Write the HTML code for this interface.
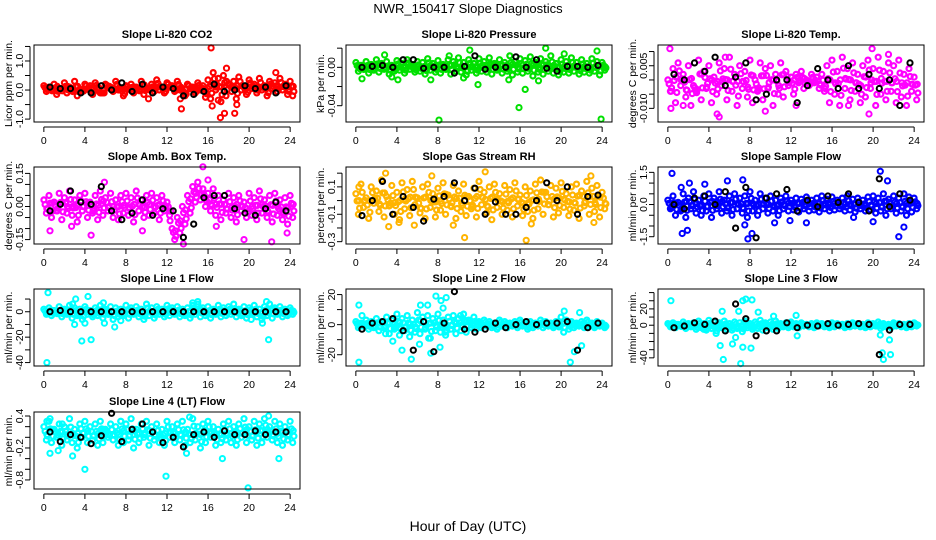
<!DOCTYPE html>
<html><head><meta charset="utf-8"><style>
html,body{margin:0;padding:0;background:#fff}
svg{display:block;font-family:"Liberation Sans",Arial,sans-serif}
</style></head><body>
<svg id="chart" width="936" height="540" viewBox="0 0 936 540" xmlns="http://www.w3.org/2000/svg">
<text x="468" y="13" text-anchor="middle" font-size="13">NWR_150417  Slope Diagnostics</text>
<text x="468" y="531" text-anchor="middle" font-size="14">Hour of Day (UTC)</text>
</svg>
<script>
const xTicks=[0,4,8,12,16,20,24];
const xTickLabels=["0","4","8","12","16","20","24"];

const co2A=[0.15,0.1,0.2,0.05,0.25,0.1,0.3,0.0,0.2,0.15,0.25,-0.1,0.2,0.1,0.3,0.05,0.15,0.2,0.1,0.3,0.05,0.2,0.35,0.1,0.25,0.15,0.3,0.0,0.2,0.1,0.25,0.15,0.35,0.6,0.4,0.5,0.2,0.3,0.45,0.1,0.35,0.2,0.4,0.15,0.3,0.25,0.4,0.2,0.3];
const co2B=[-0.05,0.0,-0.15,0.05,-0.1,0.0,-0.2,-0.05,0.05,-0.15,0.0,-0.1,0.1,-0.05,0.0,-0.2,0.05,-0.1,0.0,-0.15,0.05,-0.05,0.0,-0.1,0.1,-0.05,0.0,-0.2,0.05,-0.1,0.0,-0.25,-0.3,0.0,-0.4,-0.2,0.1,-0.3,0.0,-0.15,0.05,-0.1,0.0,-0.2,0.05,-0.05,0.0,-0.15,-0.2];
const co2Out=[[16.3,1.45],[17.2,-0.95],[17.6,-0.8],[16.4,-0.55],[13.4,-0.65],[18.6,-0.8],[17.8,0.75],[13.3,-0.3],[10.2,-0.3],[22.6,0.6],[18.8,-0.5],[17.0,-0.35]];
const co2K=[0.1,0.05,0.05,-0.1,-0.1,0.15,0.0,0.25,-0.05,0.2,-0.1,0.1,0.05,-0.2,-0.15,-0.05,0.2,-0.05,0.0,0.15,0.05,0.1,-0.1,0.15];
const co2Ticks=[-1,-0.5,0,0.5,1,1.5];
const co2Labels=["-1.0","","0.0","","1.0",""];

const presA=[0.005,0.002,0.006,0.003,0.008,0.004,0.006,0.002,0.007,0.004,0.008,0.003,0.006,0.005,0.009,0.004,0.007,0.003,0.008,0.006,0.01,0.005,0.008,0.004,0.009,0.006,0.01,0.004,0.008,0.005,0.012,0.006,0.009,0.007,0.011,0.005,0.009,0.006,0.012,0.004,0.008,0.006,0.01,0.005,0.008,0.004,0.009,0.006,0.005];
const presB=[-0.004,-0.002,-0.006,-0.003,-0.005,-0.002,-0.007,-0.004,-0.003,-0.006,-0.002,-0.005,-0.004,-0.007,-0.003,-0.005,-0.006,-0.002,-0.007,-0.004,-0.005,-0.008,-0.003,-0.006,-0.004,-0.005,-0.007,-0.003,-0.006,-0.004,-0.008,-0.005,-0.006,-0.004,-0.009,-0.005,-0.007,-0.004,-0.006,-0.008,-0.005,-0.006,-0.004,-0.007,-0.005,-0.006,-0.004,-0.008,-0.003];
const presOut=[[8.1,-0.055],[15.9,-0.042],[16.5,-0.023],[23.9,-0.054],[18.5,0.02],[11.1,0.018],[23.5,0.017],[0.6,-0.012],[4.1,-0.013],[7.3,-0.013],[11.9,-0.018],[14.9,-0.013],[17.8,-0.014],[2.8,0.013],[9.1,0.012],[20.3,0.014],[3.5,-0.01],[10.5,-0.011]];
const presK=[0.0,0.001,0.002,0.0,0.008,0.008,-0.001,0.0,0.0,-0.006,0.001,0.012,-0.002,0.0,0.0,0.011,0.0,0.008,-0.001,-0.004,0.001,0.001,0.0,0.002];
const presTicks=[-0.04,-0.02,0,0.02];
const presLabels=["-0.04","","0.00",""];

const ltA=[0.0,0.004,0.006,0.002,0.005,-0.002,0.007,0.003,0.005,0.001,0.006,0.004,0.008,0.002,0.005,0.003,0.007,0.0,0.006,0.004,0.005,0.002,0.006,0.003,0.001,0.002,0.003,0.0,0.002,0.001,0.002,0.005,0.007,0.003,0.008,0.004,0.006,0.002,0.005,0.007,0.004,0.008,0.003,0.006,0.005,0.007,0.002,0.004,0.001];
const ltB=[-0.004,-0.008,-0.002,-0.006,-0.009,-0.004,-0.007,-0.003,-0.008,-0.005,-0.002,-0.007,-0.004,-0.009,-0.003,-0.006,-0.008,-0.004,-0.007,-0.003,-0.009,-0.005,-0.006,-0.002,-0.005,-0.001,-0.003,-0.002,-0.001,-0.003,-0.004,-0.008,-0.005,-0.009,-0.003,-0.007,-0.004,-0.008,-0.006,-0.003,-0.009,-0.005,-0.007,-0.004,-0.008,-0.006,-0.009,-0.004,-0.007];
const ltOut=[[0.2,0.011],[0.3,-0.01],[4.8,-0.012],[5.0,-0.013],[9.5,-0.011],[19.6,-0.012],[19.9,0.011],[21.5,0.009],[1.5,-0.009],[5.6,0.008],[17.6,-0.009],[12.5,-0.009]];
const ltK=[0.002,0.0,0.006,0.003,0.008,-0.002,0.001,0.006,-0.007,-0.005,0.0,0.0,-0.008,-0.002,0.004,0.0,-0.003,0.005,-0.003,0.002,-0.003,0.0,-0.009,0.006];
const ltTicks=[-0.01,-0.005,0,0.005,0.01];
const ltLabels=["-0.010","","","0.005",""];

const ambA=[0.03,0.05,0.02,0.06,0.04,0.07,0.03,0.05,0.06,0.02,0.05,0.07,0.04,0.06,0.03,0.05,0.06,0.04,0.07,0.03,0.05,0.06,0.04,0.05,0.02,-0.1,-0.05,0.0,0.05,0.09,0.11,0.08,0.06,0.08,0.05,0.03,0.06,0.04,0.05,0.02,0.06,0.04,0.07,0.03,0.05,0.06,0.03,0.04,0.05];
const ambB=[-0.03,-0.05,-0.02,-0.06,-0.03,-0.04,-0.07,-0.02,-0.05,-0.03,-0.06,-0.04,-0.02,-0.05,-0.06,-0.03,-0.04,-0.07,-0.02,-0.05,-0.04,-0.03,-0.06,-0.02,-0.04,-0.15,-0.12,-0.08,-0.03,0.02,0.03,0.0,-0.02,-0.04,-0.06,-0.03,-0.05,-0.07,-0.02,-0.05,-0.04,-0.06,-0.03,-0.05,-0.07,-0.04,-0.06,-0.08,-0.05];
const ambOut=[[0.6,-0.11],[4.6,-0.13],[13.3,-0.18],[13.6,-0.17],[15.5,0.18],[16.0,0.12],[19.5,-0.15],[22.2,-0.16],[23.7,-0.12],[9.6,-0.11],[2.7,-0.09],[5.9,0.11],[16.8,-0.09]];
const ambK=[-0.02,0.01,0.07,0.02,0.01,0.09,-0.02,-0.06,-0.03,0.03,-0.04,-0.01,-0.02,-0.14,-0.08,0.04,0.05,0.05,-0.01,-0.03,-0.04,-0.01,0.02,-0.02];
const ambTicks=[-0.15,-0.1,-0.05,0,0.05,0.1,0.15];
const ambLabels=["-0.15","","","0.00","","","0.15"];

const rhA=[0.05,0.12,0.02,0.1,0.07,0.15,0.03,0.11,0.06,0.13,0.08,0.14,0.02,0.1,0.12,0.05,0.09,0.13,0.04,0.11,0.07,0.12,0.03,0.09,0.14,0.06,0.1,0.12,0.05,0.11,0.08,0.13,0.04,0.1,0.07,0.12,0.15,0.06,0.11,0.09,0.13,0.05,0.1,0.12,0.07,0.14,0.09,0.11,0.06];
const rhB=[-0.1,-0.05,-0.13,-0.02,-0.08,-0.12,-0.04,-0.1,-0.14,-0.06,-0.11,-0.03,-0.09,-0.13,-0.05,-0.12,-0.07,-0.1,-0.04,-0.13,-0.08,-0.11,-0.06,-0.12,-0.03,-0.09,-0.14,-0.05,-0.1,-0.07,-0.12,-0.04,-0.11,-0.08,-0.13,-0.06,-0.1,-0.03,-0.12,-0.09,-0.05,-0.11,-0.07,-0.13,-0.04,-0.1,-0.08,-0.12,-0.06];
const rhOut=[[2.9,0.2],[12.6,0.21],[3.2,-0.19],[5.7,-0.18],[9.5,-0.18],[10.6,-0.27],[16.6,-0.29],[23.2,-0.16],[4.2,-0.16],[17.1,-0.17],[22.9,0.18],[0.3,0.1],[7.4,0.18]];
const rhK=[-0.11,0.0,0.14,-0.1,0.03,-0.05,-0.15,0.01,0.03,0.13,0.0,0.09,-0.1,-0.01,-0.1,-0.1,-0.05,0.0,0.13,0.0,0.1,-0.1,0.03,0.04];
const rhTicks=[-0.3,-0.2,-0.1,0,0.1,0.2];
const rhLabels=["-0.3","","-0.1","","0.1",""];

const sfA=[0.2,0.4,0.1,0.5,0.3,0.6,0.2,0.4,0.5,0.3,0.6,0.2,0.4,0.5,0.3,0.4,0.6,0.2,0.5,0.3,0.4,0.2,0.3,0.4,0.2,0.3,0.25,0.35,0.2,0.3,0.4,0.25,0.35,0.2,0.3,0.4,0.25,0.3,0.2,0.35,0.4,0.3,0.5,0.25,0.4,0.3,0.5,0.35,0.3];
const sfB=[-0.2,-0.5,-0.3,-0.6,-0.2,-0.4,-0.5,-0.3,-0.6,-0.2,-0.4,-0.3,-0.5,-0.2,-0.4,-0.6,-0.3,-0.5,-0.2,-0.4,-0.3,-0.5,-0.2,-0.3,-0.25,-0.35,-0.2,-0.3,-0.25,-0.35,-0.2,-0.3,-0.25,-0.2,-0.3,-0.25,-0.35,-0.2,-0.3,-0.25,-0.4,-0.3,-0.5,-0.2,-0.4,-0.3,-0.5,-0.35,-0.2];
const sfOut=[[0.4,1.45],[1.4,-1.35],[1.9,-1.2],[2.1,1.0],[3.6,0.95],[5.8,1.1],[7.3,1.15],[7.8,-1.6],[8.2,-1.35],[7.5,-0.95],[10.4,-0.85],[11.9,-0.75],[13.5,-0.85],[20.7,1.55],[21.4,1.1],[22.5,-1.5],[23.0,-1.05],[18.1,-0.6],[1.3,0.8],[20.0,-0.8]];
const sfK=[0.0,-0.2,0.3,0.4,0.0,0.6,-1.1,0.8,-1.55,0.3,0.5,0.7,-0.3,0.2,-0.1,0.4,0.1,0.5,0.1,-0.3,1.2,-0.1,0.5,0.2];
const sfTicks=[-1.5,-1,-0.5,0,0.5,1,1.5];
const sfLabels=["-1.5","","","0.0","","","1.5"];

const l1A=[2,3,1,4,2,5,3,2,4,1,3,5,2,4,3,2,5,3,4,2,6,3,4,2,5,3,4,2,3,5,6,3,4,2,5,3,4,6,2,4,3,5,2,4,6,3,4,2,3];
const l1B=[-2,-3,-1,-4,-2,-5,-3,-6,-2,-4,-3,-5,-2,-6,-4,-3,-5,-2,-4,-6,-3,-5,-2,-4,-3,-2,-4,-3,-5,-2,-4,-3,-5,-2,-4,-3,-2,-4,-3,-5,-2,-4,-6,-3,-5,-2,-4,-3,-2];
const l1Out=[[0.4,15],[0.3,-40],[3.1,10],[2.8,6],[4.3,12],[3.7,-23],[4.6,-22],[5.8,7],[3.0,-10],[4.0,-9],[5.9,-9],[6.9,-12],[7.5,-7],[14.5,7],[15.0,8],[21.3,-9],[21.9,-22],[21.7,8],[20.2,-6]];
const l1K=[0,1,0,0,0,0,0,0,0,0,0,0,0,0,0,0,0,0,0,0,0,0,0,0];
const l1Ticks=[-40,-30,-20,-10,0,10];
const l1Labels=["-40","","-20","","0",""];

const l2A=[2,1,3,2,4,2,5,3,7,4,6,3,8,5,6,4,7,3,5,6,4,7,3,5,2,3,2,1,3,2,1,2,3,1,2,1,3,2,1,2,5,3,2,1,2,3,1,2,1];
const l2B=[-2,-1,-3,-2,-4,-2,-6,-3,-7,-4,-8,-5,-6,-3,-9,-4,-5,-7,-3,-6,-4,-5,-2,-3,-2,-1,-2,-3,-1,-2,-1,-2,-1,-3,-2,-1,-2,-1,-2,-1,-5,-3,-2,-1,-2,-1,-2,-1,-2];
const l2Out=[[0.3,13],[0.3,-25],[0.6,6],[2.9,-6],[3.6,-11],[4.5,-17],[5.4,-23],[6.2,-13],[6.3,13],[7.0,13],[7.1,-9],[7.3,-19],[7.8,19],[8.3,16],[8.2,-15],[8.5,11],[8.8,18],[8.7,-5],[10.2,6],[20.3,9],[20.9,-25],[21.3,-18],[22.0,-14],[21.8,8]];
const l2K=[-3,1,2,4,-4,-17,2,-18,1,22,-3,-5,-3,1,-2,0,2,0,1,1,2,-17,-2,1];
const l2Ticks=[-20,-10,0,10,20];
const l2Labels=["-20","","0","","20"];

const l3A=[2,3,1,4,2,3,5,2,6,4,3,5,2,4,3,5,2,4,6,3,4,5,2,3,4,2,3,1,2,3,2,1,3,2,1,2,3,2,1,3,2,4,2,1,3,2,1,2,3];
const l3B=[-2,-3,-1,-4,-2,-5,-3,-6,-4,-7,-3,-5,-6,-4,-8,-3,-5,-4,-6,-3,-5,-4,-2,-3,-2,-3,-1,-2,-3,-1,-2,-3,-2,-1,-3,-2,-1,-2,-3,-2,-1,-4,-2,-3,-1,-2,-3,-2,-1];
const l3Out=[[0.3,30],[3.5,-5],[4.7,-10],[5.1,-25],[5.3,17],[5.4,-42],[6.3,-23],[6.6,-15],[6.9,17],[7.1,-47],[7.3,30],[7.6,32],[7.3,-27],[8.1,-28],[8.2,31],[8.8,16],[10.3,11],[12.5,12],[12.6,-13],[20.7,-12],[20.9,-34],[21.0,-42],[21.6,-18],[21.7,-36]];
const l3K=[-3,-1,3,1,5,-7,26,8,-13,-7,-7,3,-3,0,-1,2,0,1,2,1,-36,-6,1,1];
const l3Ticks=[-40,-30,-20,-10,0,10,20,30,40];
const l3Labels=["-40","","","","0","","20","",""];

const l4A=[0.2,0.3,0.15,0.25,0.2,0.35,0.15,0.25,0.3,0.2,0.25,0.3,0.15,0.25,0.2,0.3,0.25,0.35,0.15,0.25,0.3,0.2,0.25,0.15,0.3,0.2,0.25,0.3,0.15,0.35,0.2,0.25,0.3,0.2,0.15,0.25,0.3,0.2,0.25,0.35,0.2,0.3,0.25,0.35,0.2,0.3,0.25,0.2,0.3];
const l4B=[-0.05,-0.1,0.0,-0.15,-0.05,-0.1,-0.2,0.0,-0.1,-0.05,-0.15,-0.1,0.0,-0.05,-0.15,-0.1,-0.05,-0.2,-0.1,0.0,-0.15,-0.05,-0.1,-0.15,0.0,-0.1,-0.05,-0.15,-0.1,-0.05,-0.2,-0.1,0.0,-0.15,-0.1,-0.05,-0.1,-0.15,0.0,-0.1,-0.05,-0.15,-0.1,0.0,-0.05,-0.1,-0.15,-0.05,-0.1];
const l4Out=[[0.3,0.3],[0.6,0.35],[0.6,-0.3],[1.4,-0.25],[2.8,-0.35],[4.0,-0.6],[11.9,-0.73],[19.9,-0.95],[14.2,0.38],[21.9,0.4],[22.9,-0.4],[17.4,-0.4],[13.9,-0.3],[1.8,0.25],[7.5,0.3]];
const l4K=[0.1,-0.08,0.05,0.0,-0.12,0.03,0.45,-0.08,0.15,0.25,0.1,-0.1,0.0,-0.18,0.05,0.1,0.0,0.12,0.05,0.05,0.12,0.05,0.1,0.1];
const l4Ticks=[-0.8,-0.6,-0.4,-0.2,0,0.2,0.4];
const l4Labels=["-0.8","","","-0.2","","","0.4"];

const panels=[
 {name:"co2",title:"Slope Li-820 CO2",ylab:"Licor ppm per min.",col:0,row:0,ymin:-1.1,ymax:1.55,color:"#ff0000",A:co2A,B:co2B,O:co2Out,K:co2K,ticks:co2Ticks,labels:co2Labels},
 {name:"pressure",title:"Slope Li-820 Pressure",ylab:"kPa per min.",col:1,row:0,ymin:-0.057,ymax:0.0233,color:"#00e000",A:presA,B:presB,O:presOut,K:presK,ticks:presTicks,labels:presLabels},
 {name:"licor-temp",title:"Slope Li-820 Temp.",ylab:"degrees C per min.",col:2,row:0,ymin:-0.0148,ymax:0.0123,color:"#ff00ff",A:ltA,B:ltB,O:ltOut,K:ltK,ticks:ltTicks,labels:ltLabels},
 {name:"amb-box-temp",title:"Slope Amb. Box Temp.",ylab:"degrees C per min.",col:0,row:1,ymin:-0.17,ymax:0.179,color:"#ff00ff",A:ambA,B:ambB,O:ambOut,K:ambK,ticks:ambTicks,labels:ambLabels},
 {name:"gas-stream-rh",title:"Slope Gas Stream RH",ylab:"percent per min.",col:1,row:1,ymin:-0.317,ymax:0.245,color:"#ffb400",A:rhA,B:rhB,O:rhOut,K:rhK,ticks:rhTicks,labels:rhLabels},
 {name:"sample-flow",title:"Slope Sample Flow",ylab:"ml/min per min.",col:2,row:1,ymin:-1.84,ymax:1.75,color:"#0000ff",A:sfA,B:sfB,O:sfOut,K:sfK,ticks:sfTicks,labels:sfLabels},
 {name:"line1-flow",title:"Slope Line 1 Flow",ylab:"ml/min per min.",col:0,row:2,ymin:-42.7,ymax:17.9,color:"#00ffff",A:l1A,B:l1B,O:l1Out,K:l1K,ticks:l1Ticks,labels:l1Labels},
 {name:"line2-flow",title:"Slope Line 2 Flow",ylab:"ml/min per min.",col:1,row:2,ymin:-27.5,ymax:23.7,color:"#00ffff",A:l2A,B:l2B,O:l2Out,K:l2K,ticks:l2Ticks,labels:l2Labels},
 {name:"line3-flow",title:"Slope Line 3 Flow",ylab:"ml/min per min.",col:2,row:2,ymin:-50,ymax:44.4,color:"#00ffff",A:l3A,B:l3B,O:l3Out,K:l3K,ticks:l3Ticks,labels:l3Labels},
 {name:"line4-flow",title:"Slope Line 4 (LT) Flow",ylab:"ml/min per min.",col:0,row:3,ymin:-0.97,ymax:0.475,color:"#00ffff",A:l4A,B:l4B,O:l4Out,K:l4K,ticks:l4Ticks,labels:l4Labels}
];

const NS="http://www.w3.org/2000/svg";
const svg=document.getElementById('chart');
function mk(tag,attrs,parent){const e=document.createElementNS(NS,tag);for(const k in attrs)e.setAttribute(k,attrs[k]);parent.appendChild(e);return e;}
const colX=[34,346,658], rowY=[45,167,289,412], W=266, H=77;
panels.forEach(p=>{
  const L=colX[p.col], T=rowY[p.row], B=T+H, R=L+W;
  const g=mk('g',{},svg);
  
  
  const xs=v=>L+(v+0.96)/25.92*W;
  const ys=v=>B-(v-p.ymin)/(p.ymax-p.ymin)*H;
  const t=mk('text',{x:L+W/2,y:T-7,'text-anchor':'middle','font-size':'11','font-weight':'bold'},g);
  t.textContent=p.title;
  
  
  const yl=mk('text',{x:0,y:0,'text-anchor':'middle','font-size':'10.5',transform:`translate(${L-22},${T+H/2}) rotate(-90)`},g);
  yl.textContent=p.ylab;
  
  
  const pts=mk('g',{fill:'none'},g);
  
  
  const dot=(x,y,c,w,r)=>{const yy=ys(y);if(yy<T-2||yy>B+2)return;const c1=mk('circle',{cx:xs(x).toFixed(1),cy:yy.toFixed(1),r:r,stroke:c,'stroke-width':w},pts);
    
    };
  p.A.forEach((v,i)=>dot(i*0.5,v,p.color,2.2,2.5));
  p.B.forEach((v,i)=>dot(i*0.5+0.25,v,p.color,2.2,2.5));
  p.A.forEach((v,i)=>dot(i*0.5+0.12,v*0.65+p.B[i]*0.35,p.color,2.2,2.5));
  p.A.forEach((v,i)=>dot(i*0.5+0.37,v*0.3+p.B[i]*0.7,p.color,2.2,2.5));
  p.A.forEach((v,i)=>dot(i*0.5+0.3,(v+p.B[(i+1)%p.B.length])/2,p.color,2.2,2.5));
  p.O.forEach(o=>dot(o[0],o[1],p.color,2.0,2.6));
  p.K.forEach((v,i)=>dot(i+0.6,v,'#000',2.0,2.6));
  const bx=mk('rect',{x:L,y:T,width:W,height:H,fill:'none',stroke:'#000','stroke-width':1},g);
  
  
  const xa=mk('g',{},g);
  
  
  mk('line',{x1:xs(xTicks[0]),x2:xs(xTicks[xTicks.length-1]),y1:B+5,y2:B+5,stroke:'#000'},xa);
  xTicks.forEach((v,i)=>{
    mk('line',{x1:xs(v),x2:xs(v),y1:B+5,y2:B+10,stroke:'#000'},xa);
    const tl=mk('text',{x:xs(v),y:B+22,'text-anchor':'middle','font-size':'10.5'},xa);
    tl.textContent=xTickLabels[i];
    
    
  });
  const ya=mk('g',{},g);
  
  
  const vis=p.ticks.filter(v=>ys(v)>=T-0.5&&ys(v)<=B+0.5);
  mk('line',{x1:L-4,x2:L-4,y1:ys(vis[0]),y2:ys(vis[vis.length-1]),stroke:'#000'},ya);
  p.ticks.forEach((v,i)=>{
    const y=ys(v); if(y<T-0.5||y>B+0.5)return;
    mk('line',{x1:L-4,x2:L-9,y1:y,y2:y,stroke:'#000'},ya);
    if(p.labels[i]){
      const tl=mk('text',{x:0,y:0,'text-anchor':'middle','font-size':'10.5',transform:`translate(${L-11},${y}) rotate(-90)`},ya);
      tl.textContent=p.labels[i];
      
      
    }
  });
});
</script>
</body></html>
